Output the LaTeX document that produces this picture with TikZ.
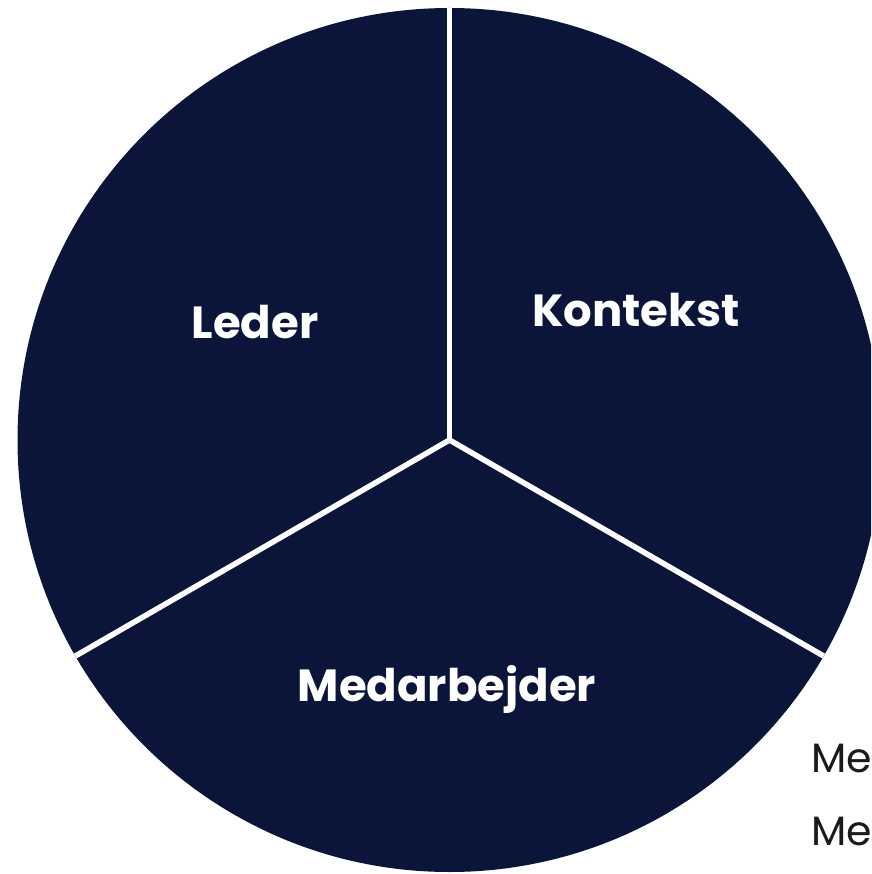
\documentclass[tikz,border=0pt]{standalone}
\usepackage{fontspec}
\usetikzlibrary{calc}
\setmainfont{Poppins}
\definecolor{navy}{HTML}{0B1539}
\definecolor{ink}{HTML}{1A1A1A}
\begin{document}
\begin{tikzpicture}[x=1pt,y=-1pt,
  sector/.style={fill=navy},
  divider/.style={draw=white,line width=5.5pt},
  seglabel/.style={text=white,font=\bfseries\fontsize{45}{54}\selectfont,anchor=base,inner sep=0pt},
  sidelabel/.style={text=ink,font=\fontsize{41}{48}\selectfont,anchor=base west,inner sep=0pt}]
\useasboundingbox (0,0) rectangle (871,874);
\clip (0,0) rectangle (871,874);
\coordinate (c) at (449.5,440);
% disc
\fill[sector] (c) circle[radius=432];
% three dividing spokes
\coordinate (top) at ($(c)+(0,-432)$);
\coordinate (bl) at ($(c)+(-374.1,216)$);
\coordinate (br) at ($(c)+(374.1,216)$);
\draw[divider] (c) -- (top);
\draw[divider] (c) -- (bl);
\draw[divider] (c) -- (br);
% sector labels
\node[seglabel] (leder) at (255,338) {Leder};
\node[seglabel] (kontekst) at (636,326) {Kontekst};
\node[seglabel] (medarb) at (447,701) {Medarbejder};
% side text
\node[sidelabel] (me1) at (811,772) {Me};
\node[sidelabel] (me2) at (811,845) {Me};
\end{tikzpicture}
\end{document}
